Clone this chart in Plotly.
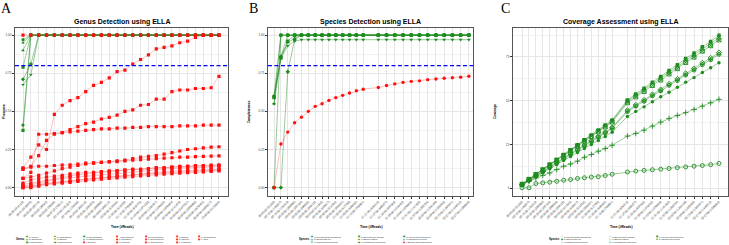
import plotly.graph_objects as go

W, H = 729, 245
FONT = "Liberation Sans"

# ---------------- data: panel A (genus presence) ----------------
A_time_labels = ["00:00:30 (4120)", "00:01:00 (9870)", "00:02:00 (20115)", "00:03:00 (30542)",
                 "00:05:00 (50230)", "00:07:30 (75811)", "00:10:00 (101224)", "00:15:00 (152630)",
                 "00:20:00 (203118)", "00:25:00 (254876)", "00:30:00 (305990)", "00:40:00 (408112)",
                 "00:50:00 (510334)", "01:00:00 (612450)", "01:15:00 (765903)", "01:30:00 (918776)",
                 "01:45:00 (1071230)", "02:00:00 (1224561)", "02:30:00 (1530220)", "03:00:00 (1836004)",
                 "03:30:00 (2141876)", "04:00:00 (2447321)", "05:00:00 (3058990)", "06:00:00 (3670452)",
                 "08:00:00 (4893217)", "10:00:00 (6115034)"]

A_genera = ["a) Listeria", "b) Salmonella", "c) Escherichia", "d) Lactobacillus", "e) Bacillus",
            "f) Enterococcus", "g) Pseudomonas", "h) Staphylococcus", "i) Shigella", "j) Enterobacter",
            "k) Citrobacter", "l) Klebsiella", "m) Paenibacillus", "n) Streptococcus", "o) Streptomyces",
            "p) Erwinia", "q) Pantoea", "r) Kosakonia", "s) Clostridioides", "t) Vibrio"]
A_expected = [True] * 8 + [False] * 12

A_listeria = [0.97] + [1.0] * 25
A_salmonella = [0.90] + [1.0] * 25
A_escherichia = [0.79] + [1.0] * 25
A_lactobacillus = [0.71, 0.81] + [1.0] * 24
A_bacillus = [0.675, 0.74] + [1.0] * 24
A_enterococcus = [0.41] + [1.0] * 25
A_pseudomonas = [0.375] + [1.0] * 25
A_staphylococcus = [0.95] + [1.0] * 25
A_shigella = [1.0] * 26
A_enterobacter = [0.13, 0.20, 0.28, 0.25, 0.48, 0.54, 0.57, 0.59, 0.63, 0.67, 0.69, 0.72, 0.76,
                  0.77, 0.81, 0.84, 0.87, 0.91, 0.92, 0.93, 0.95, 0.96, 0.985, 1.0, 1.0, 1.0]
A_citrobacter = [0.12, 0.14, 0.21, 0.31, 0.35, 0.36, 0.38, 0.40, 0.42, 0.43, 0.45, 0.46, 0.475,
                 0.50, 0.51, 0.54, 0.545, 0.58, 0.58, 0.63, 0.64, 0.64, 0.65, 0.65, 0.655, 0.73]
A_klebsiella = [0.06, 0.10, 0.35, 0.35, 0.355, 0.36, 0.365, 0.37, 0.375, 0.38, 0.385, 0.385, 0.39,
                0.39, 0.395, 0.395, 0.40, 0.40, 0.40, 0.40, 0.405, 0.405, 0.405, 0.41, 0.41, 0.41]
A_paenibacillus = [0.06, 0.07, 0.08, 0.095, 0.11, 0.125, 0.135, 0.145, 0.155, 0.16, 0.165, 0.17, 0.175,
                   0.18, 0.19, 0.20, 0.205, 0.21, 0.22, 0.23, 0.24, 0.25, 0.255, 0.26, 0.265, 0.268]
A_streptococcus = [0.125, 0.135, 0.14, 0.14, 0.145, 0.148, 0.15, 0.155, 0.16, 0.162, 0.165, 0.168, 0.17,
                   0.175, 0.18, 0.183, 0.186, 0.19, 0.193, 0.196, 0.20, 0.20, 0.203, 0.205, 0.207, 0.208]
A_streptomyces = [0.03, 0.05, 0.06, 0.07, 0.075, 0.08, 0.09, 0.095, 0.10, 0.10, 0.105, 0.11, 0.11,
                  0.115, 0.12, 0.12, 0.125, 0.13, 0.13, 0.135, 0.14, 0.14, 0.145, 0.145, 0.148, 0.15]
A_erwinia = [0.02, 0.03, 0.04, 0.05, 0.06, 0.07, 0.08, 0.085, 0.09, 0.095, 0.10, 0.105, 0.11,
             0.115, 0.12, 0.12, 0.125, 0.13, 0.13, 0.135, 0.135, 0.14, 0.14, 0.14, 0.143, 0.145]
A_pantoea = [0.01, 0.02, 0.03, 0.04, 0.05, 0.06, 0.065, 0.07, 0.075, 0.08, 0.085, 0.09, 0.095,
             0.10, 0.105, 0.11, 0.115, 0.118, 0.12, 0.125, 0.128, 0.13, 0.132, 0.134, 0.136, 0.137]
A_kosakonia = [0.005, 0.01, 0.02, 0.03, 0.035, 0.04, 0.045, 0.05, 0.055, 0.06, 0.065, 0.07, 0.075,
               0.08, 0.083, 0.086, 0.09, 0.093, 0.096, 0.10, 0.103, 0.106, 0.109, 0.112, 0.114, 0.116]
A_clostridioides = [0.0, 0.005, 0.015, 0.025, 0.03, 0.035, 0.04, 0.048, 0.055, 0.06, 0.065, 0.07, 0.075,
                    0.08, 0.085, 0.09, 0.095, 0.10, 0.104, 0.108, 0.11, 0.113, 0.115, 0.117, 0.118, 0.12]
A_vibrio = [0.0, 0.0, 0.01, 0.02, 0.025, 0.03, 0.035, 0.04, 0.045, 0.05, 0.055, 0.06, 0.064,
            0.068, 0.072, 0.076, 0.08, 0.084, 0.088, 0.092, 0.095, 0.098, 0.10, 0.103, 0.106, 0.11]
A_values = [A_listeria, A_salmonella, A_escherichia, A_lactobacillus, A_bacillus, A_enterococcus,
            A_pseudomonas, A_staphylococcus, A_shigella, A_enterobacter, A_citrobacter, A_klebsiella,
            A_paenibacillus, A_streptococcus, A_streptomyces, A_erwinia, A_pantoea, A_kosakonia,
            A_clostridioides, A_vibrio]

# ---------------- data: panels B and C (species) ----------------
BC_minutes = [5, 10, 15, 20, 25, 30, 35, 40, 45, 50, 55, 60, 65, 70,
              81, 87, 93, 99, 105, 111, 117, 123, 129, 135, 141, 147]
BC_time_labels = ["00:05:00 (51230)", "00:10:00 (102877)", "00:15:00 (154310)", "00:20:00 (205992)",
                  "00:25:00 (257104)", "00:30:00 (308866)", "00:35:00 (360125)", "00:40:00 (411840)",
                  "00:45:00 (463017)", "00:50:00 (514552)", "00:55:00 (566231)", "01:00:00 (617790)",
                  "01:05:00 (669402)", "01:10:00 (720981)", "01:21:00 (834210)", "01:27:00 (895677)",
                  "01:33:00 (957003)", "01:39:00 (1018452)", "01:45:00 (1079866)", "01:51:00 (1141320)",
                  "01:57:00 (1202754)", "02:03:00 (1264189)", "02:09:00 (1325630)", "02:15:00 (1387071)",
                  "02:21:00 (1448512)", "02:27:00 (1509943)"]

BC_species = ["a) Pseudomonas aeruginosa", "b) Escherichia coli", "c) Staphylococcus aureus",
              "d) Enterococcus faecalis", "e) Bacillus subtilis", "f) Lactobacillus fermentum",
              "g) Listeria monocytogenes", "h) Salmonella enterica", "i) Bacillus amyloliquefaciens"]

B_paeruginosa = [0.60] + [1.0] * 25
B_ecoli = [0.59, 0.86, 0.95, 0.98] + [1.0] * 22
B_saureus = [0.55, 0.85, 0.93, 0.96] + [0.97] * 22
B_efaecalis = [0.0] + [1.0] * 25
B_bsubtilis = [0.0, 0.0, 0.76, 0.97] + [1.0] * 22
B_lfermentum = [0.60, 0.86] + [1.0] * 24
B_lmonocytogenes = [0.59, 0.85, 0.96] + [1.0] * 23
B_senterica = [0.55] + [1.0] * 25
B_bamylo = [0.0, 0.286, 0.364, 0.425, 0.462, 0.50, 0.533, 0.55, 0.572, 0.59, 0.605, 0.62, 0.635,
            0.645, 0.657, 0.67, 0.68, 0.69, 0.697, 0.70, 0.708, 0.712, 0.717, 0.72, 0.724, 0.73]
B_values = [B_paeruginosa, B_ecoli, B_saureus, B_efaecalis, B_bsubtilis, B_lfermentum,
            B_lmonocytogenes, B_senterica, B_bamylo]

C_paeruginosa = [0.3, 0.3, 2.7, 3.1, 3.5, 4.0, 4.6, 5.0, 5.6, 6.0, 6.4, 6.6, 7.3, 8.0,
                 9.3, 9.8, 10.2, 10.6, 10.9, 11.3, 11.8, 12.2, 12.6, 13.0, 13.5, 14.2]
C_ecoli = [1.8, 4.3, 6.6, 8.9, 11.2, 13.5, 15.8, 18.1, 20.4, 22.7, 25.0, 27.3, 29.6, 32.0,
           41.0, 43.9, 46.5, 49.4, 52.3, 54.8, 57.7, 60.6, 63.2, 66.1, 68.8, 71.7]
C_saureus = [2.1, 4.0, 5.9, 7.4, 8.8, 10.7, 12.6, 13.9, 15.5, 17.7, 19.3, 21.2, 22.7, 24.6,
             29.8, 31.3, 33.2, 35.5, 37.8, 39.9, 41.6, 43.2, 45.0, 46.9, 48.8, 50.8]
C_efaecalis = [2.4, 5.2, 8.0, 10.7, 13.5, 16.2, 19.0, 21.8, 24.5, 27.3, 30.0, 32.8, 35.6, 38.4,
               49.6, 53.0, 56.2, 59.7, 62.8, 66.3, 69.4, 72.9, 76.1, 79.5, 82.6, 86.0]
C_bsubtilis = [2.1, 4.7, 7.2, 9.7, 12.2, 14.7, 17.2, 19.7, 22.2, 24.7, 27.1, 29.6, 32.1, 34.7,
               44.5, 47.6, 50.4, 53.6, 56.4, 59.6, 62.4, 65.6, 68.4, 71.6, 74.4, 77.5]
C_lfermentum = [2.0, 4.6, 7.1, 9.5, 12.0, 14.4, 16.9, 19.3, 21.8, 24.2, 26.7, 29.1, 31.6, 34.1,
                43.8, 46.9, 49.7, 52.8, 55.6, 58.8, 61.5, 64.7, 67.5, 70.6, 73.4, 76.5]
C_lmonocytogenes = [2.5, 5.3, 8.1, 10.9, 13.7, 16.5, 19.3, 22.1, 24.9, 27.7, 30.5, 33.3, 36.1, 39.0,
                    50.4, 53.9, 57.1, 60.6, 63.8, 67.3, 70.5, 74.1, 77.2, 80.8, 83.9, 87.4]
C_senterica = [2.3, 5.1, 7.8, 10.5, 13.3, 16.0, 18.7, 21.4, 24.1, 26.9, 29.6, 32.3, 35.0, 37.8,
               48.8, 52.2, 55.3, 58.7, 61.8, 65.3, 68.3, 71.8, 74.9, 78.3, 81.4, 84.7]
C_values = [C_paeruginosa, C_ecoli, C_saureus, C_efaecalis, C_bsubtilis, C_lfermentum,
            C_lmonocytogenes, C_senterica]

THRESHOLD = 0.8

# ---------------- styles ----------------
GREEN = "#1e8c1e"
GREEN_LINE = "rgba(34,139,34,0.45)"
RED = "#ff1010"
RED_LINE = "rgba(255,40,40,0.3)"
TICK_COLOR = "#3a3a3a"
A_green_symbols = ["circle", "triangle-up", "square", "diamond", "triangle-down", "circle", "square",
                   "triangle-up"]
B_symbols = ["circle", "triangle-up", "triangle-down", "square", "diamond", "circle", "square",
             "triangle-up", "circle"]
C_symbols = ["circle-open", "circle", "cross-thin-open", "x-thin-open", "diamond-open",
             "circle-cross-open", "square", "square-x-open"]
GLYPH = {"circle": "●", "triangle-up": "▲", "square": "■", "diamond": "◆", "triangle-down": "▼",
         "circle-open": "○", "cross-thin-open": "+", "x-thin-open": "×", "diamond-open": "◇",
         "circle-cross-open": "⊕", "square-x-open": "⊠"}


def px(x):
    return x / W


def py(y):
    return 1 - y / H


fig = go.Figure()

# panel A traces (green first, red on top)
order_A = [i for i in range(20) if A_expected[i]] + [i for i in range(20) if not A_expected[i]]
for i in order_A:
    exp = A_expected[i]
    fig.add_trace(go.Scatter(
        x=A_time_labels, y=A_values[i], mode="lines+markers", name=A_genera[i],
        xaxis="x", yaxis="y", showlegend=False,
        line=dict(color=GREEN_LINE if exp else RED_LINE, width=1),
        marker=dict(color=GREEN if exp else RED, size=3.2,
                    symbol=A_green_symbols[i] if exp else "square", line=dict(width=0))))

# panel B
for i, vals in enumerate(B_values):
    exp = i < 8
    fig.add_trace(go.Scatter(
        x=BC_minutes, y=vals, mode="lines+markers", name=BC_species[i],
        xaxis="x2", yaxis="y2", showlegend=False,
        line=dict(color=GREEN_LINE if exp else RED_LINE, width=1),
        marker=dict(color=GREEN if exp else RED, size=3.4, symbol=B_symbols[i], line=dict(width=0))))

# panel C
for i, vals in enumerate(C_values):
    sym = C_symbols[i]
    is_open = sym.endswith("open")
    fig.add_trace(go.Scatter(
        x=BC_minutes, y=vals, mode="lines+markers", name=BC_species[i],
        xaxis="x3", yaxis="y3", showlegend=False,
        line=dict(color=GREEN_LINE, width=1),
        marker=dict(color=GREEN, size=4 if is_open else 3.4, symbol=sym,
                    line=dict(width=0.9 if is_open else 0, color=GREEN))))

# threshold lines
for xr, yr in (("x domain", "y"), ("x2 domain", "y2")):
    fig.add_shape(type="line", xref=xr, yref=yr, x0=0, x1=1, y0=THRESHOLD, y1=THRESHOLD,
                  line=dict(color="#0000ff", width=1.4, dash="4px,2.5px"))


def axis_base():
    return dict(showline=True, mirror=True, linecolor="#555555", linewidth=0.9,
                showgrid=True, gridcolor="#e6e6e6", gridwidth=0.5, zeroline=False,
                ticks="outside", ticklen=2, tickwidth=0.5, tickcolor="#333333",
                tickfont=dict(size=3, color=TICK_COLOR, family=FONT), automargin=False)


XTICKFONT = dict(size=2.9, color=TICK_COLOR, family=FONT)
ydom = [py(196), py(27.5)]
xa = axis_base(); xa.update(domain=[px(15), px(228)], anchor="y", type="category",
                            range=[-1.02, 26.15], tickangle=-45, tickfont=XTICKFONT)
ya = axis_base(); ya.update(domain=ydom, anchor="x", range=[-0.055, 1.05], tickvals=[0, 0.25, 0.5, 0.75, 1.0],
                            tickformat=".2f", minor=dict(showgrid=True, gridcolor="#f2f2f2", gridwidth=0.4, dtick=0.125))
xb = axis_base(); xb.update(domain=[px(268), px(473)], anchor="y2", range=[0.6, 150.0],
                            tickvals=BC_minutes, ticktext=BC_time_labels, tickangle=-45, tickfont=XTICKFONT)
yb = axis_base(); yb.update(domain=ydom, anchor="x2", range=[-0.055, 1.05], tickvals=[0, 0.25, 0.5, 0.75, 1.0],
                            tickformat=".2f", minor=dict(showgrid=True, gridcolor="#f2f2f2", gridwidth=0.4, dtick=0.125))
xc = axis_base(); xc.update(domain=[px(513), px(728)], anchor="y3", range=[-1.5, 153.5],
                            tickvals=BC_minutes, ticktext=BC_time_labels, tickangle=-45, tickfont=XTICKFONT)
yc = axis_base(); yc.update(domain=ydom, anchor="x3", range=[-4.4, 91.8], tickvals=[0, 25, 50, 75],
                            minor=dict(showgrid=True, gridcolor="#f2f2f2", gridwidth=0.4, dtick=12.5))

fig.update_layout(
    width=W, height=H, margin=dict(l=0, r=0, t=0, b=0, autoexpand=False),
    paper_bgcolor="white", plot_bgcolor="white", showlegend=False,
    xaxis=xa, yaxis=ya, xaxis2=xb, yaxis2=yb, xaxis3=xc, yaxis3=yc,
    font=dict(family=FONT),
)


def note(x, y, text, size, xanchor="center", yanchor="middle", color="black", family=FONT, angle=0):
    fig.add_annotation(x=px(x), y=py(y), xref="paper", yref="paper", text=text, showarrow=False,
                       xanchor=xanchor, yanchor=yanchor, textangle=angle, borderpad=0, borderwidth=0,
                       font=dict(size=size, color=color, family=family))


# panel letters
note(0.5, 1.5, "A", 14, xanchor="left", yanchor="top", family="Liberation Serif")
note(249.5, 1.5, "B", 14, xanchor="left", yanchor="top", family="Liberation Serif")
note(501.5, 1.5, "C", 14, xanchor="left", yanchor="top", family="Liberation Serif")

# titles
note(121.5, 22, "<b>Genus Detection using ELLA</b>", 7)
note(370.5, 22, "<b>Species Detection using ELLA</b>", 7)
note(620.5, 22, "<b>Coverage Assessment using ELLA</b>", 7)

# axis titles
for cx in (121.5, 370.5, 620.5):
    note(cx, 226.5, "<b>Time (#Reads)</b>", 3.3)
note(3.3, 111.5, "<b>Presence</b>", 3.3, angle=-90)
note(248.8, 111.5, "<b>Completeness</b>", 3.3, angle=-90)
note(494.5, 111.5, "<b>Coverage</b>", 3.3, angle=-90)

# legends
ROWS = [236.5, 239.3, 242.1]


def legend(title, title_right, key_xs, items):
    note(title_right, ROWS[1], "<b>" + title + "</b>", 2.7, xanchor="right")
    for k, (label, glyph, color) in enumerate(items):
        c, r = divmod(k, 3)
        note(key_xs[c], ROWS[r], glyph, 2.3, color=color, family="DejaVu Sans")
        note(key_xs[c] + 2.0, ROWS[r], label, 2.1, xanchor="left", color="#222222")


legend("Genus", 24.5, [26.7, 55, 84, 117, 146, 177, 199],
       [(A_genera[i], GLYPH[A_green_symbols[i]] if A_expected[i] else "■", GREEN if A_expected[i] else RED)
        for i in range(20)])
legend("Species", 309.5, [312, 359, 404],
       [(BC_species[i], GLYPH[B_symbols[i]], GREEN if i < 8 else RED) for i in range(9)])
legend("Species", 559.5, [562, 610, 657],
       [(BC_species[i], GLYPH[C_symbols[i]], GREEN) for i in range(8)])

fig.write_html("out.html", config={"displayModeBar": False},
               post_script="document.body.style.margin='0px';")
